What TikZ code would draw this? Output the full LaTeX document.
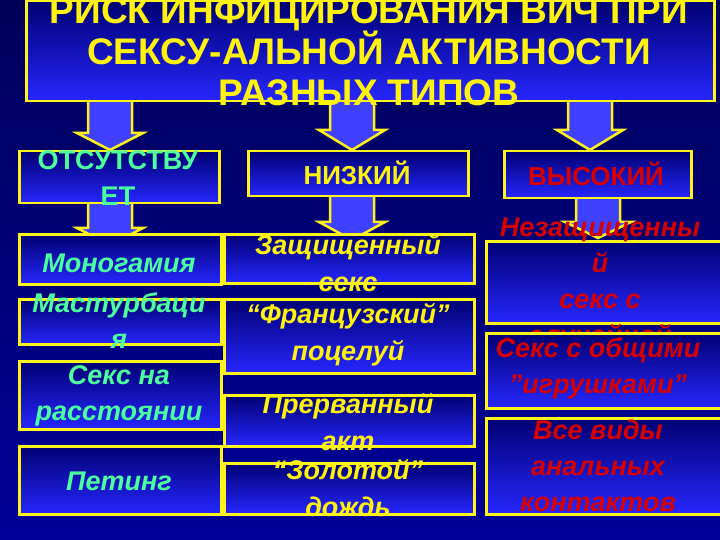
\documentclass[tikz,border=0pt]{standalone}
\usepackage{fontspec}
\setmainfont{Liberation Sans}
\begin{document}
\begin{tikzpicture}[x=1pt,y=-1pt,
  box/.style={draw=yellow!90!white,line width=2.5pt,top color=blue!45!black,bottom color=blue!85!white,inner sep=0pt},
  tt/.style={text=yellow!95!white,font=\bfseries\fontsize{37}{41}\selectfont,align=center},
  gt/.style={text=green!55!cyan!70!white,font=\bfseries\itshape\fontsize{27}{36}\selectfont,align=center},
  yt/.style={text=yellow!95!white,font=\bfseries\itshape\fontsize{27}{37}\selectfont,align=center},
  rt/.style={text=red!85!black,font=\bfseries\itshape\fontsize{27}{36}\selectfont,align=center},
  arr/.style={draw=yellow!90!white,line width=2.5pt,fill=blue!75!white,line join=miter}]
\fill[top color=blue!35!black,bottom color=blue!60!black] (0,0) rectangle (720,540);
\useasboundingbox (0,0) rectangle (720,540);
\newcommand\blkarrow[4]{\draw[arr] (#1-22,#2) -- (#1+22,#2) -- (#1+22,#3) -- (#1+33,#3) -- (#1,#4) -- (#1-33,#3) -- (#1-22,#3) -- cycle;}
% arrows
\blkarrow{110}{100}{133}{150}
\blkarrow{352}{100}{130}{150}
\blkarrow{590}{100}{130}{150}
\blkarrow{110}{202}{228}{245}
\blkarrow{352}{195}{222}{240}
\blkarrow{598}{197}{222}{238}
% title
\node[box,minimum width=688,minimum height=100,anchor=north west] (title) at (25,0) {};
\node[tt] (titletext) at (369,52) {РИСК ИНФИЦИРОВАНИЯ ВИЧ ПРИ\\СЕКСУ-АЛЬНОЙ АКТИВНОСТИ\\РАЗНЫХ ТИПОВ};
% levels
\node[box,minimum width=200,minimum height=52,anchor=north west] (l1) at (18,150) {};
\node[text=green!55!cyan!70!white,font=\bfseries\fontsize{27}{36}\selectfont,align=center] at (118,178) {ОТСУТСТВУ\\ЕТ};
\node[box,minimum width=220,minimum height=45,anchor=north west] (l2) at (247,150) {};
\node[text=yellow!95!white,font=\bfseries\fontsize{26}{30}\selectfont] at (357,173) {НИЗКИЙ};
\node[box,minimum width=187,minimum height=47,anchor=north west] (l3) at (503,150) {};
\node[text=red!85!black,font=\bfseries\fontsize{26}{30}\selectfont] at (596,174) {ВЫСОКИЙ};
% left column
\node[box,minimum width=202,minimum height=50,anchor=north west] (a1) at (18,233) {};
\node[gt] at (119,263) {Моногамия};
\node[box,minimum width=202,minimum height=45,anchor=north west] (a2) at (18,298) {};
\node[gt] at (119,321) {Мастурбаци\\я};
\node[box,minimum width=202,minimum height=68,anchor=north west] (a3) at (18,360) {};
\node[gt] at (119,396) {Секс на\\расстоянии};
\node[box,minimum width=202,minimum height=68,anchor=north west] (a4) at (18,445) {};
\node[gt] at (119,481) {Петинг};
% middle column
\node[box,minimum width=250,minimum height=49,anchor=north west] (b1) at (223,233) {};
\node[yt] at (348,263) {Защищенный\\секс};
\node[box,minimum width=250,minimum height=74,anchor=north west] (b2) at (223,298) {};
\node[yt] at (348,335) {“Французский”\\поцелуй};
\node[box,minimum width=250,minimum height=51,anchor=north west] (b3) at (223,394) {};
\node[yt] at (348,422) {Прерванный\\акт};
\node[box,minimum width=250,minimum height=51,anchor=north west] (b4) at (223,462) {};
\node[yt] at (348,488) {“Золотой”\\дождь};
% right column
\node[box,minimum width=235,minimum height=82,anchor=north west] (c1) at (485,240) {};
\node[rt,anchor=north] at (600,214) {Незащищенны\\й\\секс с\\случайной};
\node[box,minimum width=235,minimum height=75,anchor=north west] (c2) at (485,332) {};
\node[rt] at (598,368) {Секс с общими\\"игрушками"};
\node[box,minimum width=235,minimum height=96,anchor=north west] (c3) at (485,417) {};
\node[rt] at (598,466) {Все виды\\анальных\\контактов};
\end{tikzpicture}
\end{document}
